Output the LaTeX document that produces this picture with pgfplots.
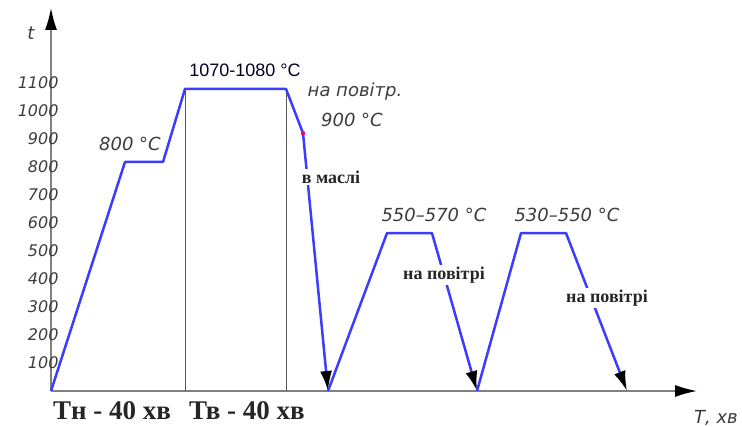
\documentclass[border=0pt]{standalone}
\usepackage{fontspec}
\setmainfont{Liberation Sans}
\newfontfamily\gost{DejaVu Sans}
\newfontfamily\serifb{Liberation Serif}
\usepackage{pgfplots}
\pgfplotsset{compat=1.18}
\usetikzlibrary{arrows.meta}
\definecolor{lineblue}{RGB}{60,60,255}
\definecolor{axgray}{RGB}{128,128,128}
\definecolor{txtgray}{RGB}{60,60,60}
\newcommand\gostf[1]{\gost\itshape\fontsize{#1}{#1}\selectfont}
\newcommand\serf[1]{\serifb\bfseries\fontsize{#1}{#1}\selectfont}
\begin{document}
\begin{tikzpicture}
\path[use as bounding box] (-51bp,-36bp) rectangle (691bp,391bp);
\begin{axis}[
  at={(0bp,0bp)}, anchor=south west,
  scale only axis, width=646bp, height=383bp,
  xmin=0, xmax=646, ymin=0, ymax=1368,
  axis lines=left,
  axis line style={axgray, line width=1.5bp, -{Latex[length=22bp,width=12bp,color=black]}},
  xtick=\empty,
  ytick={100,200,...,1100},
  major tick length=0pt,
  /pgf/number format/assume math mode=true,
  /pgf/number format/set thousands separator={},
  yticklabel style={font=\gostf{16bp}, text=txtgray, anchor=east, xshift=11bp},
  clip=false,
]
\addplot[axgray!70!black, line width=1bp] coordinates {(134,0)(134,1079)};
\addplot[axgray!70!black, line width=1bp] coordinates {(235,0)(235,1079)};
\addplot[lineblue, line width=2.5bp, line join=round, -{Latex[length=20bp,width=12bp,color=black]}]
  coordinates {(0,0)(74,818)(112,818)(134,1079)(235,1079)(252,921)(277,0)};
\addplot[lineblue, line width=2.5bp, line join=round, -{Latex[length=20bp,width=12bp,color=black]}]
  coordinates {(277,0)(336,564)(381,564)(426,0)};
\addplot[lineblue, line width=2.5bp, line join=round, -{Latex[length=20bp,width=12bp,color=black]}]
  coordinates {(426,0)(470,564)(515,564)(576,0)};
\addplot[only marks, mark=*, mark size=2bp, color=magenta!70!red] coordinates {(252,921)};

\node[font=\gostf{18bp}, text=txtgray] at (-20,1279) {t};
\node[font=\fontsize{18bp}{18bp}\selectfont, text=black!85!blue] at (194,1146) {1070-1080 °C};
\node[font=\gostf{18bp}, text=txtgray] at (304,1068) {на повітр.};
\node[font=\gostf{18bp}, text=txtgray] at (301,968) {900 °С};
\node[font=\gostf{18bp}, text=txtgray] at (79,882) {800 °С};
\node[font=\serf{18bp}, text=black!85, fill=white, inner sep=2bp] at (280,764) {в маслі};
\node[font=\gostf{18bp}, text=txtgray] at (383,629) {550–570 °С};
\node[font=\gostf{18bp}, text=txtgray] at (516,629) {530–550 °С};
\node[font=\serf{18bp}, text=black!85, fill=white, inner sep=2bp] at (393,414) {на повітрі};
\node[font=\serf{18bp}, text=black!85, fill=white, inner sep=2bp] at (556,332) {на повітрі};
\node[font=\serf{27bp}, text=black!85] at (61,-71) {Тн - 40 хв};
\node[font=\serf{27bp}, text=black!85] at (196,-71) {Тв - 40 хв};
\node[font=\gostf{18bp}, text=txtgray] at (665,-96) {Т, хв};
\end{axis}
\end{tikzpicture}
\end{document}
